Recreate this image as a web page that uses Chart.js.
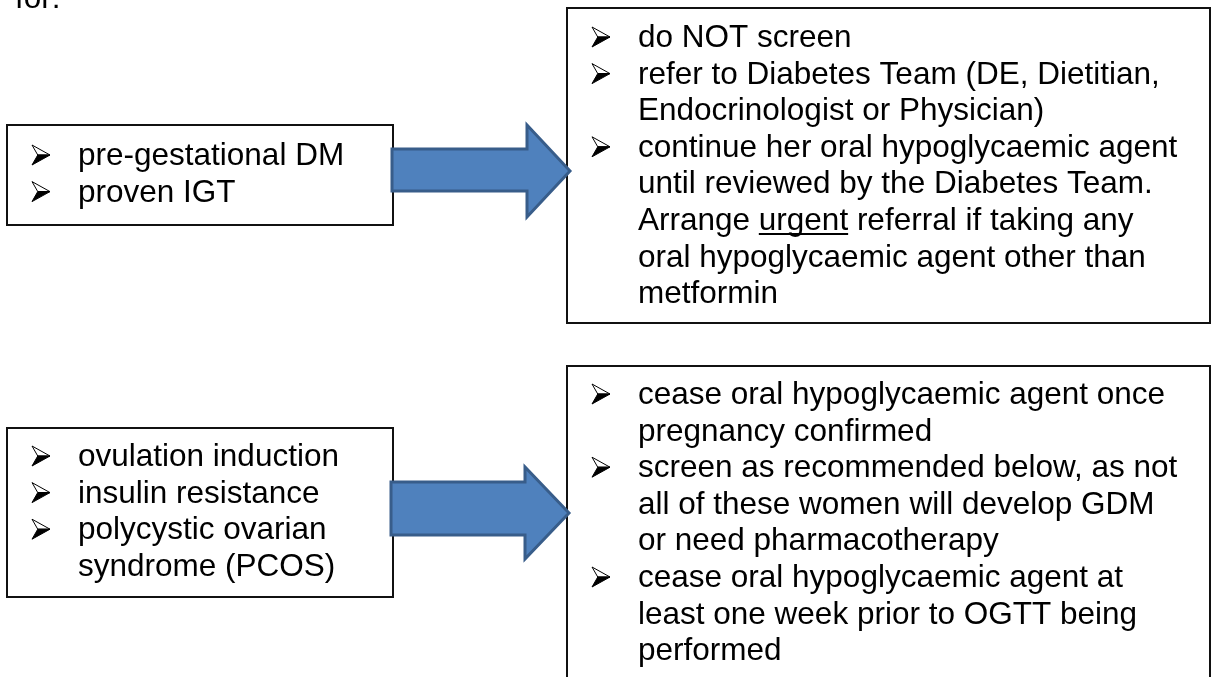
<!DOCTYPE html>
<html>
<head>
<meta charset="utf-8">
<script src="https://cdn.jsdelivr.net/npm/chart.js@4/dist/chart.umd.min.js"></script>
<style>
  html, body { margin: 0; padding: 0; background: #fff; }
  #wrap { position: relative; width: 1214px; height: 677px; }
</style>
</head>
<body>
<div id="wrap"><canvas id="diagram"></canvas></div>
<script>
// Flow diagram: two "who" boxes on the left, arrows to the "what to do" boxes.
// Each item is a list of wrapped lines; the first line of an item gets a bullet.
// _word_ marks an underlined word.

const leadText = 'for:';

const topSourceItems = [
  ['pre-gestational DM'],
  ['proven IGT'],
];

const topActionItems = [
  ['do NOT screen'],
  ['refer to Diabetes Team (DE, Dietitian,', 'Endocrinologist or Physician)'],
  ['continue her oral hypoglycaemic agent', 'until reviewed by the Diabetes Team.',
   'Arrange _urgent_ referral if taking any', 'oral hypoglycaemic agent other than', 'metformin'],
];

const bottomSourceItems = [
  ['ovulation induction'],
  ['insulin resistance'],
  ['polycystic ovarian', 'syndrome (PCOS)'],
];

const bottomActionItems = [
  ['cease oral hypoglycaemic agent once', 'pregnancy confirmed'],
  ['screen as recommended below, as not', 'all of these women will develop GDM', 'or need pharmacotherapy'],
  ['cease oral hypoglycaemic agent at', 'least one week prior to OGTT being', 'performed'],
];

// --- layout (page units = pixels of the 1214x677 page) ---
const FONT = '31.5px "Liberation Sans", Arial, sans-serif';
const LINE_H = 36.6;
const BULLET_DX = 25;
const TEXT_DX = 71;

const boxes = [
  { items: topSourceItems,    x0: 7,   y0: 125, x1: 393,  y1: 225, firstBaseline: 165 },
  { items: topActionItems,    x0: 567, y0: 8,   x1: 1210, y1: 323, firstBaseline: 47 },
  { items: bottomSourceItems, x0: 7,   y0: 428, x1: 393,  y1: 597, firstBaseline: 466 },
  { items: bottomActionItems, x0: 567, y0: 366, x1: 1210, y1: 720, firstBaseline: 404 },
];

const arrows = [
  { x0: 392, hx: 527, tip: 570, sTop: 149, sBot: 191, hTop: 125, hBot: 217, tipY: 171 },
  { x0: 391, hx: 525, tip: 569, sTop: 482, sBot: 535, hTop: 467, hBot: 559, tipY: 513 },
];

function drawBullet(ctx, left, baseline) {
  const w = 18, h = 20;
  const top = baseline - h, mid = baseline - h / 2;
  const notch = left + w * 0.32;
  // upper half: outlined
  ctx.beginPath();
  ctx.moveTo(left, top);
  ctx.lineTo(left + w, mid);
  ctx.lineTo(notch, mid);
  ctx.closePath();
  ctx.fillStyle = '#fff';
  ctx.fill();
  ctx.lineWidth = 1;
  ctx.strokeStyle = '#000';
  ctx.stroke();
  // lower half: solid
  ctx.beginPath();
  ctx.moveTo(notch, mid);
  ctx.lineTo(left + w, mid);
  ctx.lineTo(left, baseline);
  ctx.closePath();
  ctx.fillStyle = '#000';
  ctx.fill();
  ctx.stroke();
}

function drawLine(ctx, text, x, baseline) {
  const parts = text.split('_');
  let cx = x;
  parts.forEach((part, i) => {
    ctx.fillText(part, cx, baseline);
    const w = ctx.measureText(part).width;
    if (i % 2 === 1) {
      ctx.fillRect(cx, baseline + 3, w, 2);
    }
    cx += w;
  });
}

const diagramPlugin = {
  id: 'diagram',
  afterDraw(chart) {
    const { ctx, scales: { x, y } } = chart;
    const px = v => x.getPixelForValue(v);
    const py = v => y.getPixelForValue(v);

    ctx.save();
    ctx.font = FONT;
    ctx.textBaseline = 'alphabetic';
    ctx.fillStyle = '#000';
    ctx.fillText(leadText, px(15), py(8));

    boxes.forEach(box => {
      ctx.lineWidth = 2;
      ctx.strokeStyle = '#111';
      ctx.strokeRect(px(box.x0), py(box.y0), px(box.x1) - px(box.x0), py(box.y1) - py(box.y0));

      let row = 0;
      box.items.forEach(lines => {
        lines.forEach((line, i) => {
          const base = py(box.firstBaseline + row * LINE_H);
          if (i === 0) drawBullet(ctx, px(box.x0 + BULLET_DX), base);
          ctx.fillStyle = '#000';
          ctx.font = FONT;
          drawLine(ctx, line, px(box.x0 + TEXT_DX), base);
          row++;
        });
      });
    });

    arrows.forEach(a => {
      ctx.beginPath();
      ctx.moveTo(px(a.x0), py(a.sTop));
      ctx.lineTo(px(a.hx), py(a.sTop));
      ctx.lineTo(px(a.hx), py(a.hTop));
      ctx.lineTo(px(a.tip), py(a.tipY));
      ctx.lineTo(px(a.hx), py(a.hBot));
      ctx.lineTo(px(a.hx), py(a.sBot));
      ctx.lineTo(px(a.x0), py(a.sBot));
      ctx.closePath();
      ctx.fillStyle = '#4F81BD';
      ctx.fill();
      ctx.lineWidth = 3;
      ctx.lineJoin = 'miter';
      ctx.strokeStyle = '#385D8A';
      ctx.stroke();
    });
    ctx.restore();
  },
};

new Chart(document.getElementById('diagram'), {
  type: 'scatter',
  data: { datasets: [{ data: [], pointRadius: 0 }] },
  options: {
    responsive: true,
    maintainAspectRatio: false,
    animation: false,
    events: [],
    layout: { padding: 0 },
    plugins: { legend: { display: false }, tooltip: { enabled: false } },
    scales: {
      x: { type: 'linear', min: 0, max: 1214, display: false },
      y: { type: 'linear', min: 0, max: 677, reverse: true, display: false },
    },
  },
  plugins: [diagramPlugin],
});
</script>
</body>
</html>
